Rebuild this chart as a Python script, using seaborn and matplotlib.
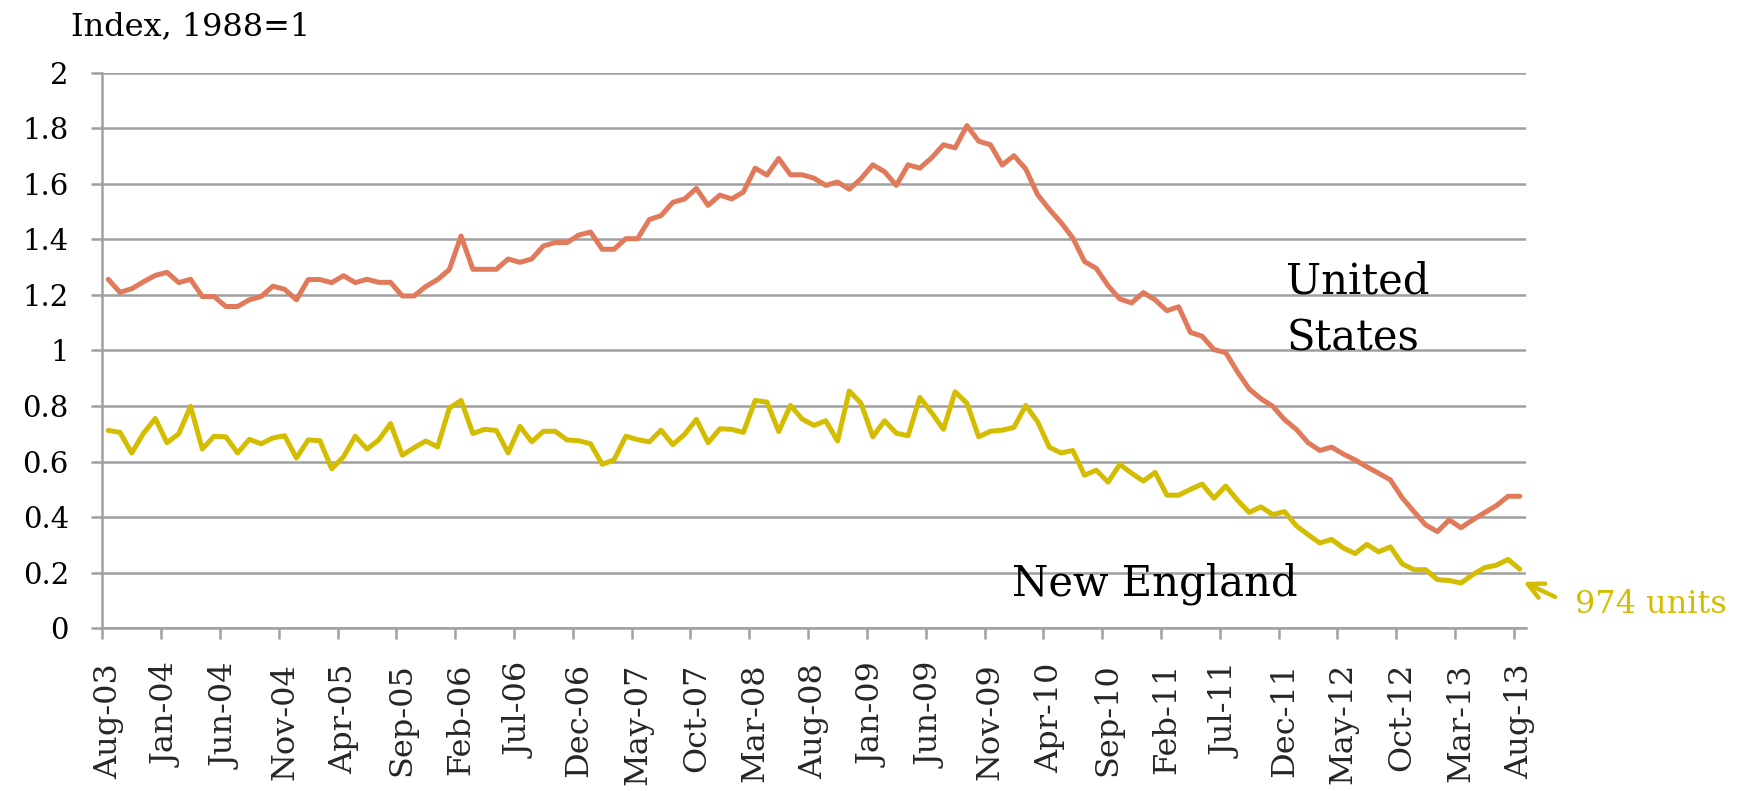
import numpy as np
import pandas as pd
import matplotlib
matplotlib.use("Agg")
import matplotlib.pyplot as plt
import seaborn as sns

# ---- data ----
us_values = [
    1.256, 1.209, 1.222, 1.247, 1.270, 1.281, 1.244, 1.256, 1.194, 1.194,
    1.158, 1.158, 1.182, 1.194, 1.231, 1.220, 1.182, 1.255, 1.255, 1.244,
    1.269, 1.244, 1.256, 1.245, 1.245, 1.196, 1.196, 1.230, 1.255, 1.291,
    1.412, 1.292, 1.292, 1.292, 1.329, 1.317, 1.329, 1.376, 1.388, 1.388,
    1.415, 1.426, 1.364, 1.364, 1.402, 1.402, 1.471, 1.485, 1.533, 1.545,
    1.583, 1.522, 1.559, 1.545, 1.570, 1.656, 1.631, 1.691, 1.632, 1.632,
    1.620, 1.594, 1.606, 1.580, 1.618, 1.668, 1.643, 1.594, 1.668, 1.656,
    1.693, 1.740, 1.729, 1.809, 1.753, 1.740, 1.667, 1.701, 1.653, 1.561,
    1.508, 1.460, 1.405, 1.320, 1.295, 1.233, 1.185, 1.171, 1.208, 1.182,
    1.143, 1.157, 1.065, 1.051, 1.003, 0.992, 0.923, 0.861, 0.826, 0.799,
    0.751, 0.716, 0.668, 0.640, 0.652, 0.627, 0.606, 0.581, 0.558, 0.534,
    0.470, 0.420, 0.372, 0.348, 0.390, 0.362, 0.390, 0.416, 0.441, 0.475,
    0.475,
]
ne_values = [
    0.712, 0.705, 0.631, 0.702, 0.755, 0.668, 0.700, 0.799, 0.645, 0.691,
    0.689, 0.631, 0.680, 0.664, 0.685, 0.693, 0.613, 0.678, 0.675, 0.574,
    0.617, 0.691, 0.645, 0.678, 0.737, 0.623, 0.650, 0.674, 0.653, 0.792,
    0.820, 0.701, 0.716, 0.712, 0.631, 0.727, 0.671, 0.709, 0.709, 0.678,
    0.675, 0.664, 0.590, 0.606, 0.691, 0.679, 0.671, 0.713, 0.661, 0.698,
    0.752, 0.668, 0.718, 0.716, 0.705, 0.820, 0.814, 0.708, 0.802, 0.753,
    0.730, 0.747, 0.674, 0.854, 0.810, 0.689, 0.747, 0.702, 0.693, 0.831,
    0.776, 0.716, 0.851, 0.810, 0.689, 0.709, 0.713, 0.723, 0.802, 0.744,
    0.652, 0.631, 0.640, 0.551, 0.569, 0.526, 0.590, 0.558, 0.530, 0.561,
    0.479, 0.479, 0.500, 0.519, 0.468, 0.512, 0.461, 0.417, 0.437, 0.409,
    0.420, 0.369, 0.337, 0.307, 0.320, 0.289, 0.269, 0.302, 0.275, 0.293,
    0.232, 0.211, 0.211, 0.175, 0.172, 0.163, 0.193, 0.218, 0.227, 0.248,
    0.213,
]
tick_labels = [
    "Aug-03", "Jan-04", "Jun-04", "Nov-04", "Apr-05", "Sep-05", "Feb-06",
    "Jul-06", "Dec-06", "May-07", "Oct-07", "Mar-08", "Aug-08", "Jan-09",
    "Jun-09", "Nov-09", "Apr-10", "Sep-10", "Feb-11", "Jul-11", "Dec-11",
    "May-12", "Oct-12", "Mar-13", "Aug-13",
]
y_ticks = [0, 0.2, 0.4, 0.6, 0.8, 1, 1.2, 1.4, 1.6, 1.8, 2]
y_tick_labels = ["0", "0.2", "0.4", "0.6", "0.8", "1", "1.2", "1.4", "1.6", "1.8", "2"]
series_names = ["United States", "New England"]
end_label = "974 units"

US_COLOR = "#E07A5A"
NE_COLOR = "#D4BD00"
GRID = "#A0A0A0"
FONT = "DejaVu Serif"

n = len(us_values)
idx = np.arange(n)
df = pd.DataFrame({
    "idx": np.concatenate([idx, idx]),
    "value": us_values + ne_values,
    "series": [series_names[0]] * n + [series_names[1]] * n,
})

sns.set_theme(style="white")
plt.rcParams["font.family"] = [FONT, "DejaVu Sans"]

fig = plt.figure(figsize=(17.46, 7.91), dpi=100)
ax = fig.add_axes([0.0586, 0.2057, 0.8738 - 0.0586, 0.9083 - 0.2057])

sns.lineplot(data=df, x="idx", y="value", hue="series",
             palette={series_names[0]: US_COLOR, series_names[1]: NE_COLOR},
             linewidth=3.6, legend=False, ax=ax, zorder=3)

ax.set_xlim(-0.5, n - 0.5)
ax.set_ylim(0, 2)

# gridlines
ax.set_yticks(y_ticks)
ax.set_yticklabels(y_tick_labels, fontsize=21, color="black")
ax.yaxis.grid(True, color=GRID, linewidth=1.8)
ax.set_axisbelow(True)
ax.tick_params(axis="y", which="major", length=8, width=1.8, color=GRID,
               pad=16, left=True, direction="out")

# x ticks: marks at category boundaries, labels at category centers
ax.set_xticks(np.arange(-0.5, n - 1, 5))
ax.set_xticklabels([])
ax.tick_params(axis="x", which="major", length=8, width=1.8, color=GRID,
               bottom=True, direction="out")
ax.set_xticks(np.arange(0, n, 5), minor=True)
ax.set_xticklabels(tick_labels, minor=True, rotation=90, fontsize=23)
ax.tick_params(axis="x", which="minor", length=0, pad=25)

for s in ["top", "right"]:
    ax.spines[s].set_visible(False)
for s in ["left", "bottom"]:
    ax.spines[s].set_color(GRID)
    ax.spines[s].set_linewidth(1.8)
    ax.spines[s].set_zorder(2)

ax.set_xlabel("")
ax.set_ylabel("")

# annotations
ax.text(100.15, 1.2047, "United", fontsize=30, ha="left", va="baseline", color="black")
ax.text(100.15, 0.998, "States", fontsize=30, ha="left", va="baseline", color="black")
ax.text(76.8, 0.117, "New England", fontsize=30, ha="left", va="baseline", color="black")

ax.annotate("", xy=(120.3, 0.167), xytext=(123.0, 0.113),
            arrowprops=dict(arrowstyle="->", color=NE_COLOR, lw=3.2,
                            mutation_scale=28, shrinkA=0, shrinkB=0),
            annotation_clip=False)
ax.text(124.7, 0.055, end_label, fontsize=23, ha="left", va="baseline",
        color=NE_COLOR, clip_on=False)

fig.text(0.0407, 0.9558, "Index, 1988=1", fontsize=23, ha="left", va="baseline",
         color="black")

fig.savefig("out.png", dpi=100, facecolor="white")
